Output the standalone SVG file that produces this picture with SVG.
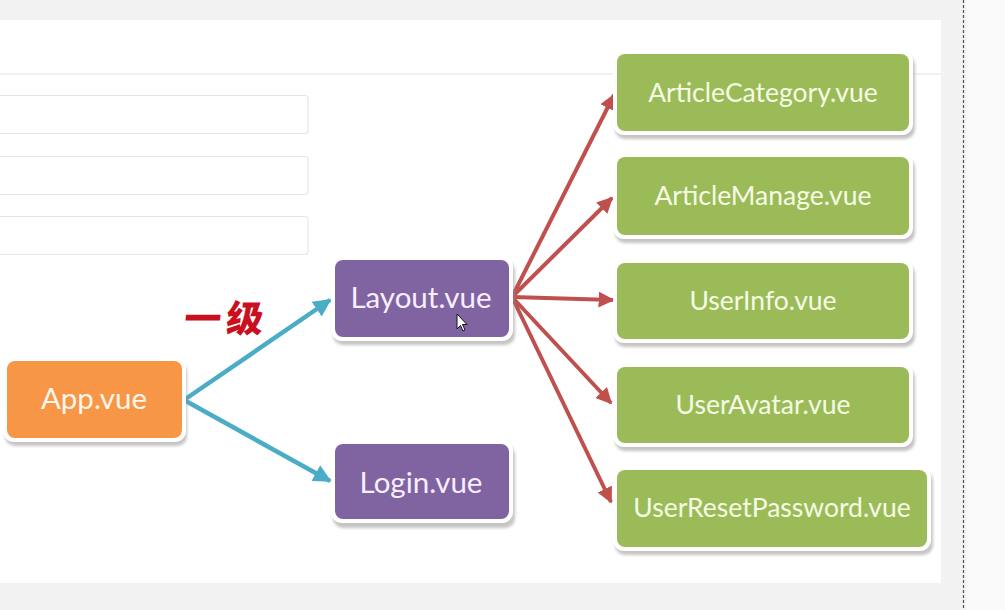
<svg xmlns="http://www.w3.org/2000/svg" width="1005" height="610" viewBox="0 0 1005 610">
<defs>
<style>
.lbl{font-family:Lato,"Open Sans","Noto Sans",sans-serif;font-size:26.5px;text-anchor:middle}
.big{font-size:29.5px}
.g{fill:#9bbb59}.p{fill:#8064a2}.o{fill:#f79646}
.gt{fill:#f6fbe4}.pt{fill:#f7efff}.ot{fill:#fff6ec}
.frame{fill:#ffffff}
.shadow{fill:#8a8a8a;opacity:.5;filter:url(#blur)}
.field{fill:#ffffff;stroke:#e6e6e6;stroke-width:1.2}
.teal{stroke:#4bacc6;stroke-width:4.5;fill:none}
.red{stroke:#c0504d;stroke-width:4;fill:none}
</style>
<filter id="blur" x="-10%" y="-20%" width="120%" height="150%"><feGaussianBlur stdDeviation="1.8"/></filter>
<marker id="at" viewBox="0 0 10 10" refX="9" refY="5" markerWidth="4" markerHeight="4" orient="auto" markerUnits="strokeWidth"><path d="M0,0 L10,5 L0,10 z" fill="#4bacc6"/></marker>
<marker id="ar" viewBox="0 0 10 10" refX="9" refY="5" markerWidth="4" markerHeight="4" orient="auto" markerUnits="strokeWidth"><path d="M0,0 L10,5 L0,10 z" fill="#c0504d"/></marker>
</defs>

<rect x="0" y="0" width="1005" height="610" fill="#f2f2f2"/>
<rect x="966" y="0" width="39" height="610" fill="#f9f9f9"/>
<line x1="963.5" y1="0" x2="963.5" y2="610" stroke="#555" stroke-width="1.2" stroke-dasharray="3 2"/>
<rect x="0" y="20" width="941" height="563" fill="#ffffff"/>
<line x1="0" y1="74" x2="941" y2="74" stroke="#ececec" stroke-width="1.5"/>
<rect class="field" x="-4" y="95.5" width="312" height="38" rx="3"/>
<rect class="field" x="-4" y="156.5" width="312" height="38" rx="3"/>
<rect class="field" x="-4" y="216.5" width="312" height="38" rx="3"/>

<g id="connectors">
<path class="teal" d="M184,400 L330,300" marker-end="url(#at)"/>
<path class="teal" d="M184,400 L330,481" marker-end="url(#at)"/>
<path class="red" d="M512,297 L614,95" marker-end="url(#ar)"/>
<path class="red" d="M512,297 L612,198" marker-end="url(#ar)"/>
<path class="red" d="M512,297 L613,300" marker-end="url(#ar)"/>
<path class="red" d="M512,297 L611,403" marker-end="url(#ar)"/>
<path class="red" d="M512,297 L611,502" marker-end="url(#ar)"/>
</g>

<g id="label-yiji">
<text x="183" y="332" font-family="'Noto Sans CJK SC','Noto Sans CJK JP',sans-serif" font-size="37" font-weight="900" fill="#c8101e" letter-spacing="5" transform="skewX(-6) translate(35,0)">一级</text>
</g>

<g id="app">
<rect class="shadow" x="5" y="362" width="182" height="84" rx="10"/>
<rect class="frame" x="3" y="357" width="183" height="85" rx="11"/>
<rect class="o" x="7" y="361" width="175" height="77" rx="8"/>
<text class="lbl big ot" x="94" y="409">App.vue</text>
</g>

<g id="layout">
<rect class="shadow" x="333" y="261" width="182" height="84" rx="10"/>
<rect class="frame" x="331" y="256" width="182" height="85" rx="11"/>
<rect class="p" x="335" y="260" width="174" height="77" rx="8"/>
<text class="lbl big pt" x="421" y="308">Layout.vue</text>
</g>

<g id="login">
<rect class="shadow" x="333" y="445" width="182" height="83" rx="10"/>
<rect class="frame" x="331" y="440" width="182" height="83" rx="11"/>
<rect class="p" x="335" y="444" width="174" height="75" rx="8"/>
<text class="lbl big pt" x="421" y="493">Login.vue</text>
</g>

<g id="articlecategory">
<rect class="shadow" x="615" y="55" width="300" height="84" rx="10"/>
<rect class="frame" x="613" y="50" width="300" height="85" rx="11"/>
<rect class="g" x="617" y="54" width="292" height="77" rx="8"/>
<text class="lbl gt" x="763" y="102">ArticleCategory.vue</text>
</g>

<g id="articlemanage">
<rect class="shadow" x="615" y="158" width="300" height="85" rx="10"/>
<rect class="frame" x="613" y="153" width="300" height="86" rx="11"/>
<rect class="g" x="617" y="157" width="292" height="78" rx="8"/>
<text class="lbl gt" x="763" y="205">ArticleManage.vue</text>
</g>

<g id="userinfo">
<rect class="shadow" x="615" y="264" width="300" height="83" rx="10"/>
<rect class="frame" x="613" y="259" width="300" height="84" rx="11"/>
<rect class="g" x="617" y="263" width="292" height="76" rx="8"/>
<text class="lbl gt" x="763" y="310">UserInfo.vue</text>
</g>

<g id="useravatar">
<rect class="shadow" x="615" y="368" width="300" height="83" rx="10"/>
<rect class="frame" x="613" y="363" width="300" height="84" rx="11"/>
<rect class="g" x="617" y="367" width="292" height="76" rx="8"/>
<text class="lbl gt" x="763" y="414">UserAvatar.vue</text>
</g>

<g id="userresetpassword">
<rect class="shadow" x="615" y="471" width="318" height="84" rx="10"/>
<rect class="frame" x="613" y="466" width="318" height="85" rx="11"/>
<rect class="g" x="617" y="470" width="310" height="77" rx="8"/>
<text class="lbl gt" x="772" y="517">UserResetPassword.vue</text>
</g>

<g id="cursor">
<path d="M457,314 L457,329 L460.5,325.5 L463,331 L465,330 L462.5,324.5 L467,324.5 Z" fill="#ffffff" stroke="#111" stroke-width="1" stroke-linejoin="round"/>
</g>
</svg>
